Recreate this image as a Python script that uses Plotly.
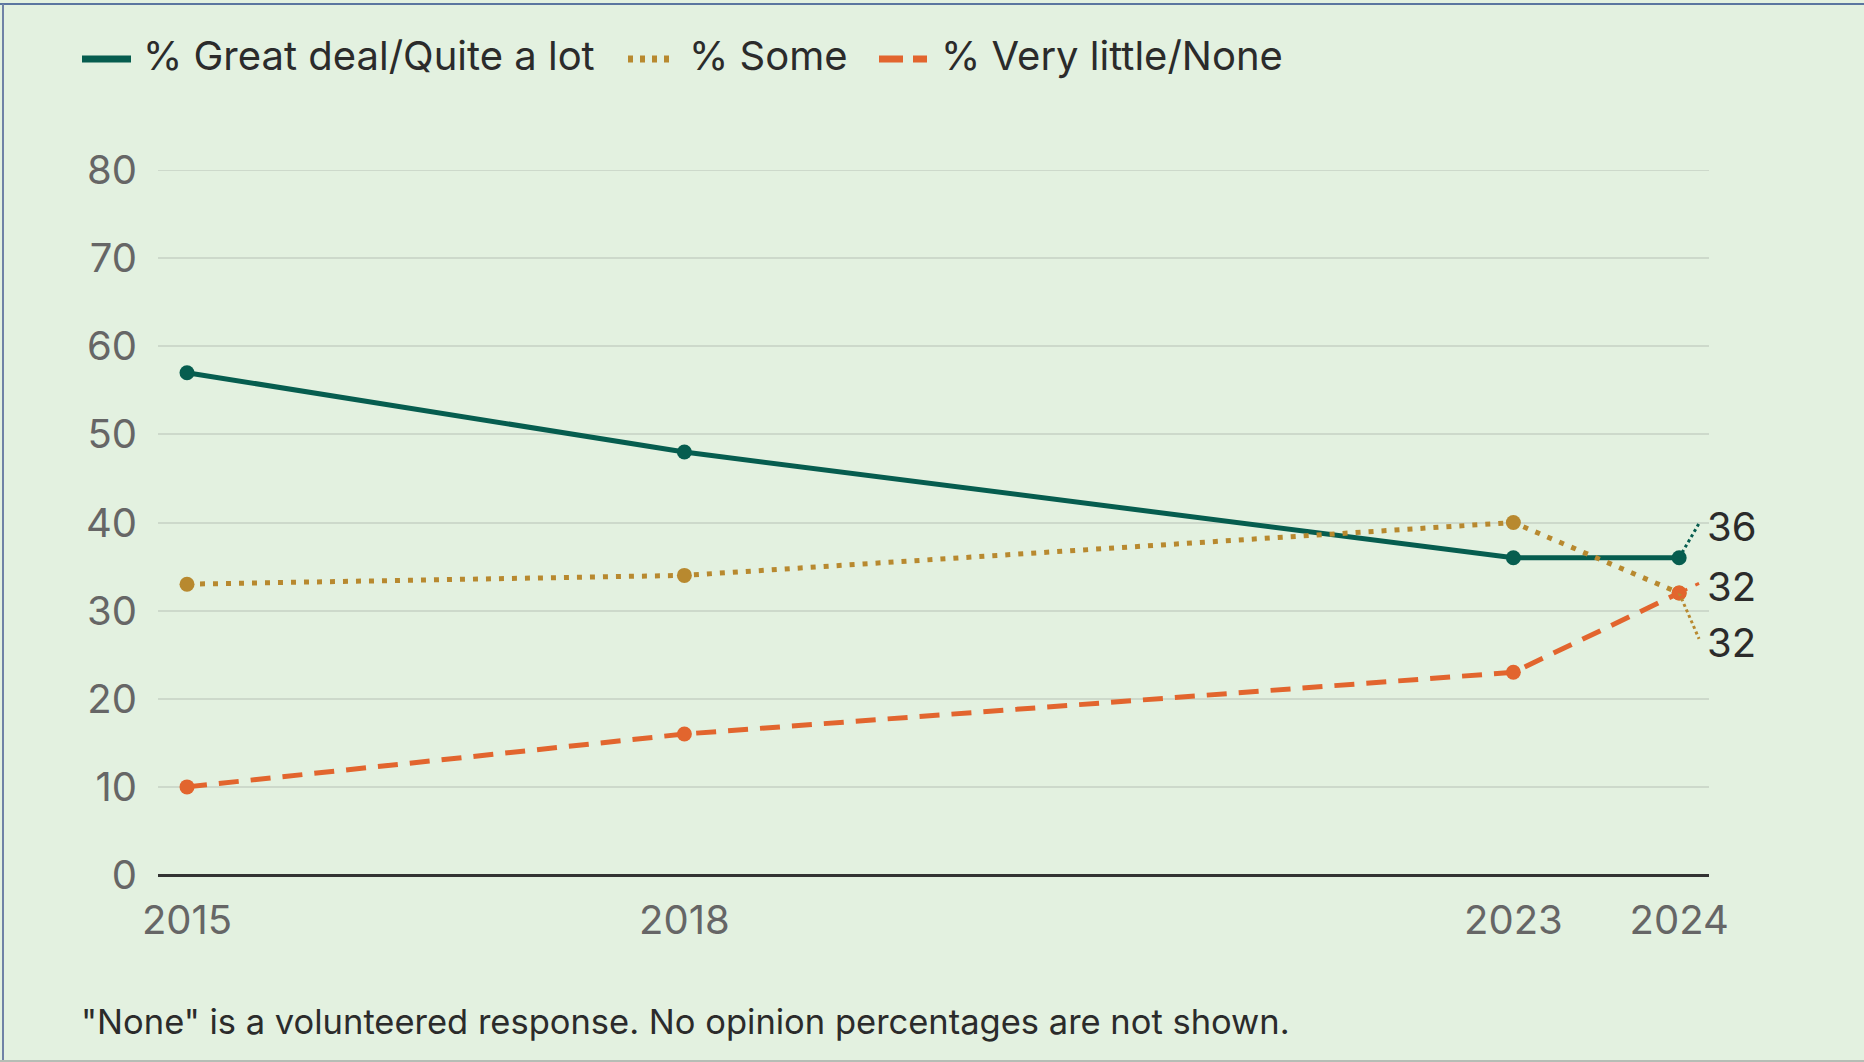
import plotly.graph_objects as go

years = [2015, 2018, 2023, 2024]
great_deal = [57, 48, 36, 36]
some = [33, 34, 40, 32]
very_little = [10, 16, 23, 32]
series_names = ["% Great deal/Quite a lot", "% Some", "% Very little/None"]
end_labels = ["36", "32", "32"]
y_ticks = [0, 10, 20, 30, 40, 50, 60, 70, 80]
footnote = "\"None\" is a volunteered response. No opinion percentages are not shown."

GREEN = "#065d4f"
GOLD = "#b8892f"
ORANGE = "#e2652e"
BG = "#e3f1e0"
GRID = "#cdd9cb"
FONT = "Inter"

W, H = 1864, 1062
L, R, T, B = 158, 155, 170, 187
pw = W - L - R
ph = H - T - B


def px_x(p):
    return (p - L) / pw


def px_y(p):
    return (H - B - p) / ph


fig = go.Figure()

styles = [
    dict(color=GREEN, dash="solid"),
    dict(color=GOLD, dash="5px,8px"),
    dict(color=ORANGE, dash="20px,12px"),
]
values = [great_deal, some, very_little]

# top gridline (plotly skips the gridline at the range edge)
fig.add_shape(type="line", xref="paper", yref="y", x0=0, x1=1, y0=y_ticks[-1], y1=y_ticks[-1],
              line=dict(color=GRID, width=2), layer="below")

for name, vals, st in zip(series_names, values, styles):
    fig.add_trace(go.Scatter(
        x=years, y=vals, mode="lines+markers", name=name, showlegend=False,
        line=dict(color=st["color"], width=5, dash=st["dash"]),
        marker=dict(color=st["color"], size=15),
        hoverinfo="skip",
    ))

# end labels with leader lines
label_offsets = [3.9, -5.2, 1.1]
leader_dash = ["dot", "dot", "dash"]
x_end = years[-1]
x_lead = x_end + 0.12
for vals, lab, off, st, ld in zip(values, end_labels, label_offsets, styles, leader_dash):
    y0 = vals[-1]
    y1 = y0 + off
    fig.add_shape(type="line", xref="x", yref="y", x0=x_end, y0=y0, x1=x_lead, y1=y1,
                  line=dict(color=st["color"], width=3, dash=ld))
    fig.add_annotation(x=x_lead, y=y1 - 0.4, xref="x", yref="y", text=lab, showarrow=False,
                       xanchor="left", yanchor="middle", xshift=6,
                       font=dict(family=FONT, size=40, color="#2b2b2b"))

# manual legend
legend_sym = [(82, 131, "solid"), (628, 676, "5px,7px"), (879, 927, "24px,10px")]
legend_text_x = [141, 687, 939]
legend_y = 56
for name, st, (sx0, sx1, sd), tx in zip(series_names, styles, legend_sym, legend_text_x):
    fig.add_shape(type="line", xref="paper", yref="paper",
                  x0=px_x(sx0), x1=px_x(sx1), y0=px_y(legend_y + 3), y1=px_y(legend_y + 3),
                  line=dict(color=st["color"], width=7, dash=sd))
    fig.add_annotation(x=px_x(tx), y=px_y(legend_y), xref="paper", yref="paper", text=name,
                       showarrow=False, xanchor="left", yanchor="middle",
                       font=dict(family=FONT, size=40, color="#2b2b2b"))

fig.add_annotation(x=px_x(79), y=px_y(1021), xref="paper", yref="paper", text=footnote,
                   showarrow=False, xanchor="left", yanchor="middle",
                   font=dict(family=FONT, size=34.5, color="#2b2b2b"))

# frame lines
fig.add_shape(type="line", xref="paper", yref="paper", x0=px_x(0), x1=px_x(W),
              y0=px_y(4), y1=px_y(4), line=dict(color="#5b76a0", width=2))
fig.add_shape(type="line", xref="paper", yref="paper", x0=px_x(3), x1=px_x(3),
              y0=px_y(4), y1=px_y(H), line=dict(color="#6f82a6", width=2))
fig.add_shape(type="line", xref="paper", yref="paper", x0=px_x(0), x1=px_x(W),
              y0=px_y(H - 1), y1=px_y(H - 1), line=dict(color="#b5bdb5", width=2))

fig.update_layout(
    width=W, height=H,
    margin=dict(l=L, r=R, t=T, b=B, autoexpand=False),
    paper_bgcolor=BG, plot_bgcolor=BG,
    font=dict(family=FONT, color="#666666"),
    showlegend=False,
    xaxis=dict(range=[2014.825, 2024.18], tickvals=years, ticktext=[str(y) for y in years],
               showgrid=False, zeroline=False, showline=False,
               tickfont=dict(family=FONT, size=40, color="#666666"),
               ticks="", ticklabelstandoff=18),
    yaxis=dict(range=[0, 80], tickvals=y_ticks, showgrid=True, gridcolor=GRID, gridwidth=2,
               zeroline=True, zerolinecolor="#333333", zerolinewidth=3,
               showline=False, ticks="", ticklabelstandoff=20,
               tickfont=dict(family=FONT, size=40, color="#666666")),
)

fig.write_html("out.html", config={"displayModeBar": False},
               post_script="document.body.style.margin='0';document.body.style.overflow='hidden';")
